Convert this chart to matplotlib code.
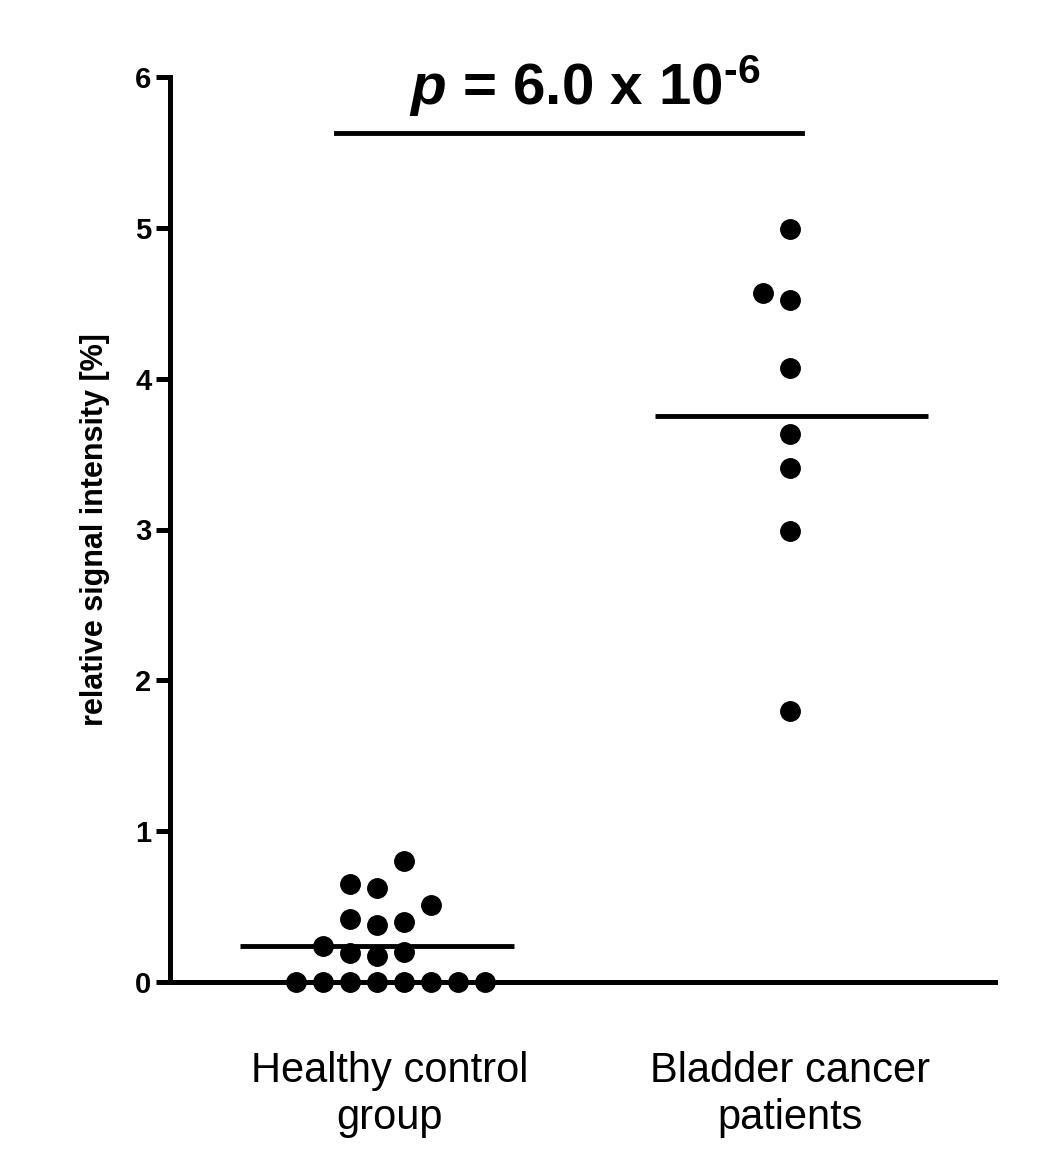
import matplotlib.pyplot as plt
import numpy as np

plt.rcParams['font.family'] = ['Liberation Sans', 'DejaVu Sans']
plt.rcParams['mathtext.fontset'] = 'custom'
plt.rcParams['mathtext.rm'] = 'Liberation Sans:bold'
plt.rcParams['mathtext.bfit'] = 'Liberation Sans:bold:italic'
plt.rcParams['mathtext.it'] = 'Liberation Sans:bold:italic'
plt.rcParams['mathtext.bf'] = 'Liberation Sans:bold'

# Healthy control group: (offset index from centre, value)
healthy_off = [-3.5, -2.5, -1.5, -0.5, 0.5, 1.5, 2.5, 3.5,
               -2.5, -1.5, -0.5, 0.5,
               -1.5, -0.5, 0.5, 1.5,
               -1.5, -0.5, 0.5]
healthy_val = [0, 0, 0, 0, 0, 0, 0, 0,
               0.24, 0.19, 0.17, 0.20,
               0.42, 0.38, 0.40, 0.51,
               0.65, 0.62, 0.80]
cancer_off = [-1, 0, 0, 0, 0, 0, 0, 0]
cancer_val = [4.57, 4.99, 4.52, 4.07, 3.63, 3.41, 2.99, 1.80]
means = [0.24, 3.75]
labels = ["Healthy control\ngroup", "Bladder cancer\npatients"]
step = 0.0675

fig = plt.figure(figsize=(10.41, 11.76), dpi=100)
ax = fig.add_axes([170/1041, 194/1176, 825/1041, 905/1176])
ax.plot(1.0 + np.array(healthy_off) * step, healthy_val, 'o', color='black', ms=14, clip_on=False, zorder=3)
ax.plot(2.0 + np.array(cancer_off) * step, cancer_val, 'o', color='black', ms=14, clip_on=False, zorder=3)
ax.hlines(means[0], 0.625, 1.31, color='black', lw=3.5)
ax.hlines(means[1], 1.6625, 2.345, color='black', lw=3.5)

ax.set_xlim(0.45, 2.5125)
ax.set_ylim(0, 6)
for s in ['top', 'right']:
    ax.spines[s].set_visible(False)
for s in ['left', 'bottom']:
    ax.spines[s].set_linewidth(3.6)
ax.set_yticks(range(7))
ax.set_yticklabels([str(i) for i in range(7)], fontsize=21, fontweight='bold')
ax.tick_params(axis='y', width=3.6, length=10)
ax.set_xticks([1.0, 2.0])
ax.set_xticklabels(labels, fontsize=30)
ax.tick_params(axis='x', length=0, pad=50)
ax.set_ylabel("relative signal intensity [%]", fontsize=22, fontweight='bold', labelpad=18)

ax.plot([0.865, 2.03], [5.63, 5.63], color='black', lw=3.5, clip_on=False)
ax.text(1.4875, 5.72, r"$\mathit{p}$ = 6.0 x 10$^{\text{-6}}$", fontsize=42, fontweight='bold',
        ha='center', va='bottom')

fig.savefig("out.png", dpi=100)
